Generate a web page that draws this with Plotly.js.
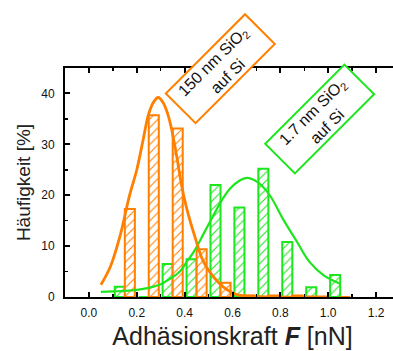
<!DOCTYPE html>
<html>
<head>
<meta charset="utf-8">
<script src="https://cdn.plot.ly/plotly-3.0.1.min.js"></script>
<style>
html,body{margin:0;padding:0;overflow:hidden;background:#fff;}
#chart{width:400px;height:351px;}
</style>
</head>
<body>
<div id="chart"></div>
<script>
// Bin centres (nN)
const binCenters = [0.15, 0.25, 0.35, 0.45, 0.55, 0.65, 0.75, 0.85, 0.95, 1.05];
// Histogram values [%]
const green17nm = [2.0, 0, 6.5, 7.4, 22.0, 17.6, 25.2, 10.8, 1.9, 4.3];
const orange150nm = [17.3, 35.7, 33.1, 9.4, 2.8, 0.3, 0.3, 0.3, 0, 0];
// Fitted curves
const orangeFitX = [0.05, 0.09, 0.13, 0.17, 0.2, 0.227, 0.248, 0.27, 0.29, 0.31, 0.331, 0.345, 0.366, 0.387, 0.408, 0.443, 0.478, 0.52, 0.561, 0.617, 0.7, 0.8, 0.9, 1.0];
const orangeFitY = [2.4, 6.0, 12.0, 20.0, 25.0, 31.0, 35.7, 38.3, 39.2, 38.2, 35.7, 33.1, 27.9, 22.0, 17.5, 11.8, 7.0, 4.0, 2.0, 0.5, 0.1, 0, 0, 0];
const greenFitX = [0.05, 0.1, 0.15, 0.2, 0.25, 0.3, 0.34, 0.38, 0.41, 0.44, 0.48, 0.52, 0.55, 0.59, 0.63, 0.66, 0.69, 0.72, 0.76, 0.81, 0.87, 0.92, 0.98, 1.05];
const greenFitY = [1.0, 1.1, 1.2, 1.4, 1.8, 2.5, 3.6, 5.0, 7.0, 9.0, 12.5, 16.0, 18.6, 21.3, 22.9, 23.4, 23.0, 22.0, 19.7, 15.4, 10.8, 7.0, 4.3, 2.6];

const xTickVals = [0, 0.2, 0.4, 0.6, 0.8, 1.0, 1.2];
const xTickText = ['0.0', '0.2', '0.4', '0.6', '0.8', '1.0', '1.2'];
const yTickVals = [0, 10, 20, 30, 40];

const ORANGE = '#ff7f00';
const GREEN = '#1ee61e';
const FONT = 'Liberation Sans, Arial, sans-serif';

const traces = [
  {
    type: 'bar', x: binCenters, y: green17nm, name: '1.7 nm',
    marker: {color: 'white', line: {color: GREEN, width: 2},
      pattern: {shape: '/', fgcolor: GREEN, bgcolor: 'white', size: 6, solidity: 0.18}},
    hoverinfo: 'skip'
  },
  {
    type: 'bar', x: binCenters, y: orange150nm, name: '150 nm',
    marker: {color: 'white', line: {color: ORANGE, width: 2},
      pattern: {shape: '/', fgcolor: ORANGE, bgcolor: 'white', size: 6, solidity: 0.18}},
    hoverinfo: 'skip'
  },
  {
    type: 'scatter', mode: 'lines', x: greenFitX, y: greenFitY,
    line: {color: GREEN, width: 2.2, shape: 'spline'}, hoverinfo: 'skip'
  },
  {
    type: 'scatter', mode: 'lines', x: orangeFitX, y: orangeFitY,
    line: {color: ORANGE, width: 2.8, shape: 'spline'}, hoverinfo: 'skip'
  }
];

const layout = {
  width: 400, height: 351,
  margin: {l: 65, r: 0, t: 68, b: 54},
  paper_bgcolor: 'white', plot_bgcolor: 'white',
  showlegend: false,
  barmode: 'group', bargap: 0.16, bargroupgap: 0,
  font: {family: FONT, color: '#111'},
  xaxis: {
    range: [-0.1, 1.3], showgrid: false, zeroline: false,
    showline: true, linecolor: '#000', linewidth: 2, mirror: 'ticks',
    ticks: 'inside', ticklen: 5, tickwidth: 2, tickcolor: '#000',
    tickvals: xTickVals, ticktext: xTickText,
    tickfont: {size: 12, family: FONT, color: '#111'},
    ticklabelstandoff: 4,
    minor: {ticks: 'inside', ticklen: 3, tickwidth: 1.5, tickcolor: '#000', dtick: 0.1, tick0: 0, showgrid: false},
    title: {text: 'Adhäsionskraft <b><i>F</i></b> [nN]', font: {size: 25, family: FONT, color: '#222'}, standoff: 8}
  },
  yaxis: {
    range: [0, 45], showgrid: false, zeroline: false,
    showline: true, linecolor: '#000', linewidth: 2, mirror: 'ticks',
    ticks: 'inside', ticklen: 5, tickwidth: 2, tickcolor: '#000',
    tickvals: yTickVals,
    tickfont: {size: 12, family: FONT, color: '#111'},
    ticklabelstandoff: 6,
    minor: {ticks: 'inside', ticklen: 3, tickwidth: 1.5, tickcolor: '#000', dtick: 5, tick0: 0, showgrid: false},
    title: {text: 'Häufigkeit [%]', font: {size: 19, family: FONT, color: '#222'}, standoff: 6}
  },
  annotations: [
    {
      xref: 'x', yref: 'y', x: 0.547, y: 44.9, showarrow: false,
      text: '150 nm SiO<sub>2</sub><br>auf Si', textangle: -45,
      font: {size: 16, family: FONT, color: '#111'},
      bordercolor: ORANGE, borderwidth: 2, borderpad: 1, bgcolor: 'white',
      width: 108, height: 38, align: 'center', valign: 'middle'
    },
    {
      xref: 'x', yref: 'y', x: 0.965, y: 34.9, showarrow: false,
      text: '1.7 nm SiO<sub>2</sub><br>auf Si', textangle: -45,
      font: {size: 16, family: FONT, color: '#111'},
      bordercolor: GREEN, borderwidth: 2, borderpad: 1, bgcolor: 'white',
      width: 108, height: 38, align: 'center', valign: 'middle'
    }
  ]
};

Plotly.newPlot('chart', traces, layout, {displayModeBar: false, staticPlot: true});
</script>
</body>
</html>
